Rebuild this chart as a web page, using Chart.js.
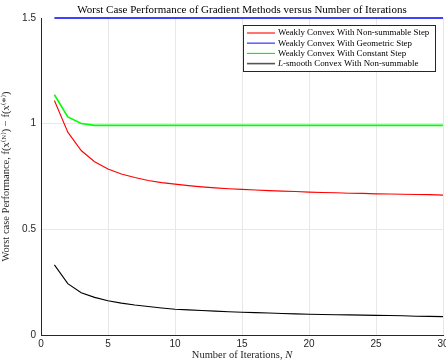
<!DOCTYPE html>
<html>
<head>
<meta charset="utf-8">
<script src="https://cdn.jsdelivr.net/npm/chart.js@4"></script>
<style>
  html, body { margin: 0; padding: 0; background: #fff; }
  #wrap { width: 446px; height: 362px; }
</style>
</head>
<body>
<div id="wrap"><canvas id="myChart" width="446" height="362"></canvas></div>
<script>
// iterations N
let iterations = [1, 2, 3, 4, 5, 6, 7, 8, 9, 10, 11, 12, 13, 14, 15,
    16, 17, 18, 19, 20, 21, 22, 23, 24, 25, 26, 27, 28, 29, 30];

let nonSummable = [1.11, 0.96, 0.873, 0.82, 0.785, 0.762, 0.745, 0.731, 0.721, 0.714,
    0.707, 0.701, 0.696, 0.692, 0.689, 0.686, 0.683, 0.681, 0.679, 0.676,
    0.674, 0.673, 0.671, 0.670, 0.668, 0.667, 0.666, 0.665, 0.664, 0.662];

let geometric = [1.5, 1.5, 1.5, 1.5, 1.5, 1.5, 1.5, 1.5, 1.5, 1.5,
    1.5, 1.5, 1.5, 1.5, 1.5, 1.5, 1.5, 1.5, 1.5, 1.5,
    1.5, 1.5, 1.5, 1.5, 1.5, 1.5, 1.5, 1.5, 1.5, 1.5];

let constantStep = [1.137, 1.032, 1.001, 0.992, 0.992, 0.992, 0.992, 0.992, 0.992, 0.992,
    0.992, 0.992, 0.992, 0.992, 0.992, 0.992, 0.992, 0.992, 0.992, 0.992,
    0.992, 0.992, 0.992, 0.992, 0.992, 0.992, 0.992, 0.992, 0.992, 0.992];

let smoothConvex = [0.332, 0.243, 0.2, 0.178, 0.162, 0.151, 0.142, 0.135, 0.128, 0.122,
    0.119, 0.116, 0.113, 0.110, 0.108, 0.106, 0.104, 0.102, 0.100, 0.098,
    0.097, 0.096, 0.095, 0.094, 0.093, 0.092, 0.091, 0.089, 0.088, 0.087];

let seriesNames = [
    'Weakly Convex With Non-summable Step',
    'Weakly Convex With Geometric Step',
    'Weakly Convex With Constant Step',
    'L-smooth Convex With Non-summable'
];

let xTicks = [0, 5, 10, 15, 20, 25, 30];
let yTicks = [0, 0.5, 1, 1.5];

function pts(ys) {
    return iterations.map((n, i) => ({ x: n, y: ys[i] }));
}

let serif = "'Liberation Serif', 'DejaVu Serif', serif";
let sans = "'Liberation Sans', Arial, sans-serif";

// write text where the pieces flagged true are italic
function mixed(c, parts, x, y, size) {
    let total = 0;
    parts.forEach(p => {
        c.font = (p[1] ? 'italic ' : '') + size + 'px ' + serif;
        total += c.measureText(p[0]).width;
    });
    let cx = x - total / 2;
    c.textAlign = 'left';
    parts.forEach(p => {
        c.font = (p[1] ? 'italic ' : '') + size + 'px ' + serif;
        c.fillText(p[0], cx, y);
        cx += c.measureText(p[0]).width;
    });
}

// title + legend box + x title, matlab style
let matlabBits = {
    id: 'matlabBits',
    afterDraw(chart) {
        let c = chart.ctx;
        let a = chart.chartArea;
        c.save();
        c.fillStyle = '#000';
        c.font = '11px ' + serif;
        c.textAlign = 'center';
        c.textBaseline = 'middle';
        c.fillText('Worst Case Performance of Gradient Methods versus Number of Iterations', (a.left + a.right) / 2, 10);

        c.fillStyle = '#262626';
        mixed(c, [['Number of Iterations, ', false], ['N', true]], (a.left + a.right) / 2, 355, 10.5);

        // legend
        let bx = 243, by = 25, bw = 192, bh = 46;
        c.fillStyle = '#fff';
        c.fillRect(bx, by, bw, bh);
        c.strokeStyle = '#262626';
        c.lineWidth = 1;
        c.strokeRect(bx + 0.5, by + 0.5, bw, bh);
        c.textAlign = 'left';
        let legCols = ['#ff0000', '#6666ff', '#00ee00', '#555555'];
        chart.data.datasets.forEach((ds, i) => {
            let y = 33 + i * 10.2;
            c.strokeStyle = legCols[i];
            c.lineWidth = i == 1 || i == 3 ? 1.6 : 1.1;
            c.beginPath();
            c.moveTo(247, y);
            c.lineTo(275, y);
            c.stroke();
            c.fillStyle = '#000';
            if (i == 3) {
                c.font = 'italic 8.9px ' + serif;
                c.fillText('L', 278, y);
                let w = c.measureText('L').width;
                c.font = '8.9px ' + serif;
                c.fillText(ds.label.slice(1), 278 + w, y);
            } else {
                c.font = '8.9px ' + serif;
                c.fillText(ds.label, 278, y);
            }
        });
        c.restore();
    }
};

let ctx = document.getElementById('myChart').getContext('2d');
let myChart = new Chart(ctx, {
    type: 'line',
    data: {
        datasets: [{
            label: seriesNames[0],
            data: pts(nonSummable),
            borderColor: '#ff0000',
            borderWidth: 1.1
        }, {
            label: seriesNames[1],
            data: pts(geometric),
            borderColor: '#0000ff',
            borderWidth: 1.5
        }, {
            label: seriesNames[2],
            data: pts(constantStep),
            borderColor: '#00ff00',
            borderWidth: 1.6
        }, {
            label: seriesNames[3],
            data: pts(smoothConvex),
            borderColor: '#000000',
            borderWidth: 1.1
        }]
    },
    options: {
        responsive: false,
        animation: false,
        clip: false,
        layout: {
            padding: { top: 18, left: 0, right: 0, bottom: 0 }
        },
        elements: {
            point: { radius: 0 },
            line: { tension: 0 }
        },
        plugins: {
            legend: { display: false },
            title: { display: false },
            tooltip: { enabled: false }
        },
        scales: {
            x: {
                type: 'linear',
                min: 0,
                max: 30,
                afterBuildTicks: s => { s.ticks = xTicks.map(v => ({ value: v })); },
                afterFit: s => { s.height = 27; s.paddingRight = 3; s.paddingLeft = 0; },
                ticks: {
                    color: '#262626',
                    font: { family: sans, size: 10 },
                    padding: 3,
                    maxRotation: 0
                },
                grid: {
                    color: ctx => ctx.tick && ctx.tick.value > 0 ? '#e8e8e8' : 'rgba(0,0,0,0)',
                    lineWidth: 1,
                    drawTicks: false
                },
                border: { color: '#262626', width: 1 }
            },
            y: {
                min: 0,
                max: 1.5,
                afterBuildTicks: s => { s.ticks = yTicks.map(v => ({ value: v })); },
                afterFit: s => { s.width = 41; },
                ticks: {
                    color: '#262626',
                    font: { family: sans, size: 10 },
                    padding: 5,
                    callback: v => String(v)
                },
                grid: {
                    color: ctx => ctx.tick && ctx.tick.value > 0 && ctx.tick.value < 1.5 ? '#e8e8e8' : 'rgba(0,0,0,0)',
                    lineWidth: 1,
                    drawTicks: false
                },
                border: { color: '#262626', width: 1 },
                title: {
                    display: true,
                    text: 'Worst case Performance, f(x⁽ᴺ⁾) − f(x⁽*⁾)',
                    color: '#262626',
                    font: { family: serif, size: 10.5 },
                    padding: { top: 0, bottom: 2 }
                }
            }
        }
    },
    plugins: [matlabBits]
});
</script>
</body>
</html>
